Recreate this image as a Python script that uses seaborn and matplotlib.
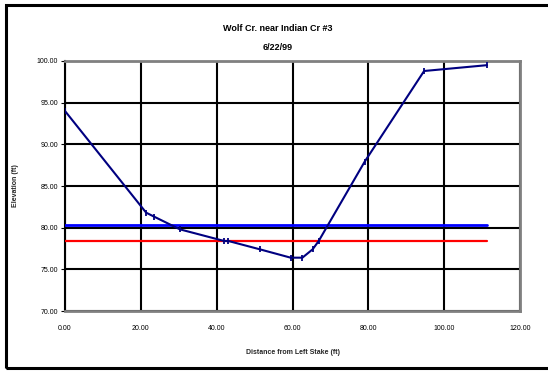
import matplotlib
matplotlib.use('Agg')
import matplotlib.pyplot as plt
import seaborn as sns
import pandas as pd
from matplotlib.patches import Rectangle

# cross-section survey, Wolf Cr. near Indian Cr #3
distance = [0.0, 21.4, 23.6, 30.3, 42.0, 43.1, 51.4, 59.5, 62.6, 65.3, 66.9, 79.0, 94.7, 111.3]
elevation = [94.0, 81.8, 81.3, 79.8, 78.4, 78.4, 77.4, 76.4, 76.4, 77.4, 78.4, 87.9, 98.8, 99.5]

# horizontal reference levels
level_x = [0.0, 111.3]
bankfull = [80.3, 80.3]
water = [78.4, 78.4]

x_ticks = [0, 20, 40, 60, 80, 100, 120]
y_ticks = [70, 75, 80, 85, 90, 95, 100]

sns.set_style('white')
plt.rcParams['font.family'] = ['Liberation Sans', 'DejaVu Sans']

fig = plt.figure(figsize=(5.48, 3.71), dpi=100)
ax = fig.add_axes([0.1186, 0.1617, 0.8304, 0.6739])

# outer chart frame
fig.patches.append(Rectangle((6 / 548, 3 / 371), 1.0, 363 / 371, transform=fig.transFigure,
                             fill=False, edgecolor='black', linewidth=2.2, zorder=0))

profile = pd.DataFrame({'distance': distance, 'elevation': elevation})
sns.lineplot(data=profile, x='distance', y='elevation', ax=ax, sort=False,
             color='#000080', linewidth=1.5, marker='|', markersize=5,
             markeredgewidth=1.3, markeredgecolor='#000080', zorder=4)
sns.lineplot(x=level_x, y=bankfull, ax=ax, color='#0000FF', linewidth=2.0, zorder=3)
sns.lineplot(x=level_x, y=water, ax=ax, color='#FF0000', linewidth=1.6, zorder=3)

ax.set_xlim(0, 120)
ax.set_ylim(70, 100)
ax.set_xticks(x_ticks)
ax.set_yticks(y_ticks)
ax.set_xticklabels([f'{v:.2f}' for v in x_ticks])
ax.set_yticklabels([f'{v:.2f}' for v in y_ticks])
ax.grid(True, color='black', linewidth=1.5)
ax.set_axisbelow(True)

for side in ['top', 'right', 'bottom']:
    ax.spines[side].set_color('#808080')
    ax.spines[side].set_linewidth(2)
ax.spines['left'].set_color('black')
ax.spines['left'].set_linewidth(1.5)

ax.tick_params(axis='both', labelsize=5, colors='black', length=3, width=0.8)
ax.tick_params(axis='x', length=0, pad=10)
ax.tick_params(axis='y', direction='out', left=True, pad=2)

ax.set_xlabel('Distance from Left Stake (ft)', fontsize=5, fontweight='bold', labelpad=12)
ax.set_ylabel('Elevation (ft)', fontsize=5, fontweight='bold', labelpad=13)

fig.text(0.506, 0.922, 'Wolf Cr. near Indian Cr #3', ha='center', va='center',
         fontsize=6.5, fontweight='bold', color='black')
fig.text(0.506, 0.873, '6/22/99', ha='center', va='center',
         fontsize=6.5, fontweight='bold', color='black')

fig.savefig('out.png', dpi=100)
